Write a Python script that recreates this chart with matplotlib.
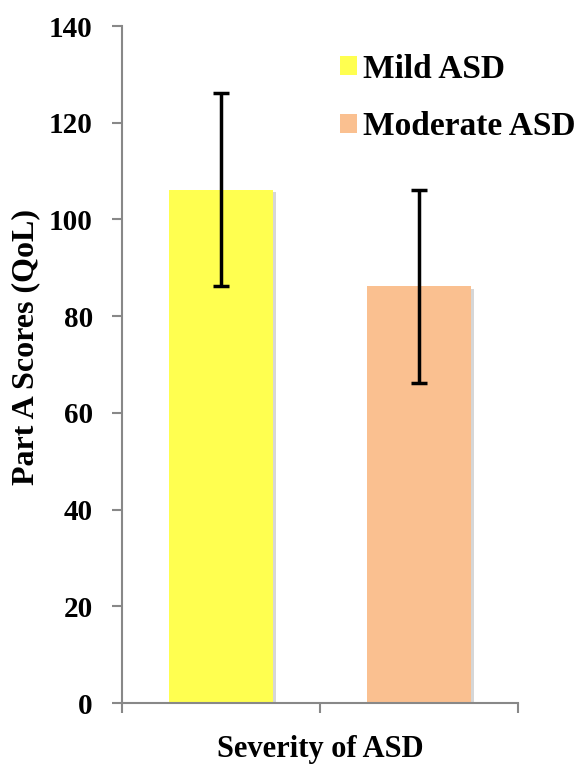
import matplotlib

matplotlib.use('AGG')
import matplotlib.pyplot as plt
import matplotlib.patheffects as pe
from matplotlib.patches import Patch

categories = ['Mild ASD', 'Moderate ASD']
means = [106.2, 86.2]
errors = [20.0, 20.0]
colors = ['#FFFF50', '#FAC090']
yticks = [0, 20, 40, 60, 80, 100, 120, 140]

plt.rcParams['font.family'] = ['Liberation Serif', 'DejaVu Serif']
plt.rcParams['font.weight'] = 'bold'

fig = plt.figure(figsize=(5.76, 7.67), dpi=100)
ax = fig.add_axes([0.2118, 0.0834, 0.6875, 0.8826])

shadow = [pe.SimplePatchShadow(offset=(2, -2), shadow_rgbFace='#bbbbbb', alpha=0.6), pe.Normal()]
for k in range(len(categories)):
    ax.bar(k, means[k], width=0.53, color=colors[k],
           path_effects=shadow, zorder=2)
    ax.errorbar(k, means[k], yerr=errors[k], fmt='none', ecolor='black',
                elinewidth=2.5, capsize=6, capthick=2.5, zorder=3)

ax.set_xlim(-0.5, 1.5)
ax.set_ylim(0, 140)
ax.set_yticks(yticks)
ax.set_yticklabels([str(v) for v in yticks], fontsize=21, fontweight='bold')
ax.set_xticks([-0.5, 0.5, 1.5])
ax.set_xticklabels([])
ax.tick_params(axis='x', direction='out', length=7, color='#888888', width=1.5)
ax.tick_params(axis='y', direction='out', length=7, color='#888888', width=1.5, pad=14)

for s in ['top', 'right']:
    ax.spines[s].set_visible(False)
for s in ['left', 'bottom']:
    ax.spines[s].set_color('#888888')
    ax.spines[s].set_linewidth(1.5)

ax.set_ylabel('Part A Scores (QoL)', fontsize=23, fontweight='bold')
ax.yaxis.set_label_coords(-0.207, 0.526)
ax.set_xlabel('Severity of ASD', fontsize=22, fontweight='bold')
ax.xaxis.set_label_coords(0.5, -0.047)

handles = [Patch(facecolor=colors[k], label=categories[k]) for k in range(len(categories))]
leg = fig.legend(handles=handles, loc='upper left', bbox_to_anchor=(0.590, 0.930),
                 frameon=False, borderpad=0, borderaxespad=0,
                 handlelength=0.5, handleheight=0.5, handletextpad=0.2,
                 labelspacing=0.8, prop={'size': 24, 'weight': 'bold'})

plt.savefig('out.png', dpi=100)
